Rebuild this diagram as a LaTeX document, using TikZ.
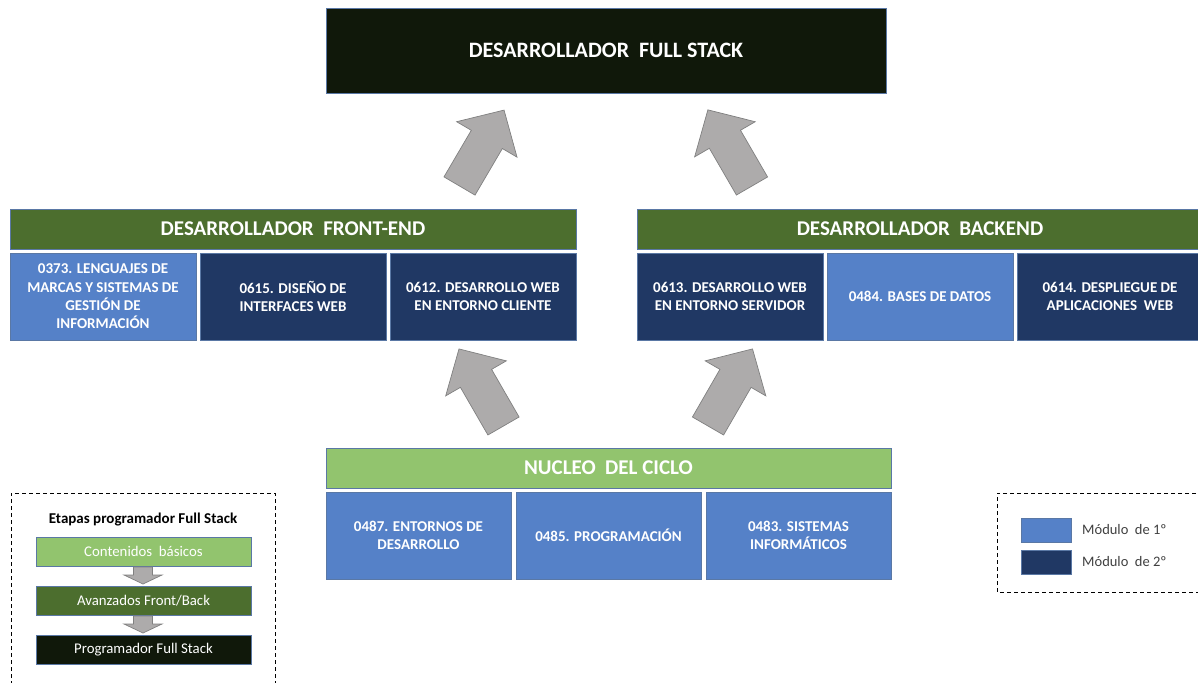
\documentclass[tikz,border=0pt]{standalone}
\usepackage{fontspec}
\setmainfont{Carlito}
\definecolor{lblue}{RGB}{85,129,200}
\definecolor{navy}{RGB}{32,56,100}
\definecolor{dgreen}{RGB}{76,110,46}
\definecolor{lgreen}{RGB}{146,196,110}
\definecolor{nearblack}{RGB}{16,24,10}
\definecolor{bordercol}{RGB}{90,120,165}
\definecolor{arrowfill}{RGB}{173,171,171}
\definecolor{arrowdraw}{RGB}{128,128,128}
\definecolor{legtext}{RGB}{64,64,64}
\newcommand\grayarrow[6]{%
  \begin{scope}[shift={#1}, rotate=#2]
    \draw[bigarrow] (0,-#4) -- ({#3-#6},-#4) -- ({#3-#6},-#5) -- (#3,0) -- ({#3-#6},#5) -- ({#3-#6},#4) -- (0,#4) -- cycle;
  \end{scope}}
\tikzset{
  box/.style={draw=bordercol, line width=0.7pt, inner sep=0pt, outer sep=0pt, align=center, text=white},
  header/.style={box, minimum width=566pt, minimum height=40pt, font=\fontsize{21}{25}\selectfont\bfseries},
  module/.style={box, minimum width=186pt, minimum height=87pt, font=\fontsize{15}{18.3}\selectfont\bfseries},
  bigarrow/.style={fill=arrowfill, draw=arrowdraw, line width=0.7pt, line join=miter},
  legbox/.style={box, minimum width=215pt, minimum height=29pt, font=\fontsize{14.8}{17}\selectfont},
  swatch/.style={draw=bordercol, line width=0.7pt, minimum width=50pt, minimum height=24pt, inner sep=0pt},
  legframe/.style={draw=black, line width=0.9pt, dash pattern=on 4pt off 3pt},
}
\begin{document}
\begin{tikzpicture}[x=1pt,y=-1pt]
\useasboundingbox (0,0) rectangle (1198,682);
\fill[white] (0,0) rectangle (1198,682);

% top
\node[box, fill=nearblack, minimum width=560pt, minimum height=85pt, font=\fontsize{22}{26}\selectfont\bfseries] (fs) at (606,50.5) {DESARROLLADOR\ \ FULL STACK};

% front-end
\node[header, fill=dgreen] (fe) at (293,229) {DESARROLLADOR\ \ FRONT-END};
\node[module, fill=lblue] (m0373) at (103,296.5) {0373. LENGUAJES DE\\MARCAS Y SISTEMAS DE\\GESTIÓN DE\\INFORMACIÓN};
\node[module, fill=navy] (m0615) at (293,296.5) {0615. DISEÑO DE\\INTERFACES WEB};
\node[module, fill=navy] (m0612) at (483,296.5) {0612. DESARROLLO WEB\\EN ENTORNO CLIENTE};

% backend
\node[header, fill=dgreen] (be) at (920,229) {DESARROLLADOR\ \ BACKEND};
\node[module, fill=navy] (m0613) at (730,296.5) {0613. DESARROLLO WEB\\EN ENTORNO SERVIDOR};
\node[module, fill=lblue] (m0484) at (920,296.5) {0484. BASES DE DATOS};
\node[module, fill=navy] (m0614) at (1110,296.5) {0614. DESPLIEGUE DE\\APLICACIONES\ \ WEB};

% nucleo
\node[header, fill=lgreen, minimum width=565pt] (nc) at (608.5,468) {NUCLEO\ \ DEL CICLO};
\node[module, fill=lblue, minimum width=185pt] (m0487) at (418.5,535.5) {0487. ENTORNOS DE\\DESARROLLO};
\node[module, fill=lblue, minimum width=185pt] (m0485) at (608.5,535.5) {0485. PROGRAMACIÓN};
\node[module, fill=lblue, minimum width=185pt] (m0483) at (798.5,535.5) {0483. SISTEMAS\\INFORMÁTICOS};

% big arrows
\coordinate (ta1) at (459.5,186);
\coordinate (ta2) at (752,186);
\coordinate (ta3) at (503.5,426);
\coordinate (ta4) at (708,426);
\grayarrow{(ta1)}{59.6}{88}{18}{35}{34}
\grayarrow{(ta2)}{120.1}{88}{18}{35}{34}
\grayarrow{(ta3)}{120}{89}{18}{35}{34}
\grayarrow{(ta4)}{60}{89}{18}{35}{34}

% left legend
\draw[legframe] (11,720) -- (11,493) -- (275,493) -- (275,720);
\node[font=\fontsize{15}{18}\selectfont\bfseries, text=black, inner sep=0pt] (legt) at (143,520) {Etapas programador Full Stack};
\node[legbox, fill=lgreen] (lg1) at (143.5,551.5) {Contenidos\ \ básicos};
\node[legbox, fill=dgreen] (lg2) at (143.5,600.5) {Avanzados Front/Back};
\node[legbox, fill=nearblack] (lg3) at (143.5,650) {Programador Full Stack};
\coordinate (tl1) at (143,567);
\coordinate (tl2) at (143,616);
\grayarrow{(tl1)}{-90}{17}{9.5}{19}{9}
\grayarrow{(tl2)}{-90}{17}{9.5}{19}{9}

% right legend
\draw[legframe] (1210,493) -- (997,493) -- (997,592) -- (1210,592);
\node[swatch, fill=lblue] (sw1) at (1046,530) {};
\node[swatch, fill=navy] (sw2) at (1046,562) {};
\node[anchor=west, inner sep=0pt, text=legtext, font=\fontsize{14.5}{17}\selectfont] (lt1) at (1082,530) {Módulo\ \ de\ 1º};
\node[anchor=west, inner sep=0pt, text=legtext, font=\fontsize{14.5}{17}\selectfont] (lt2) at (1082,562) {Módulo\ \ de\ 2º};
\end{tikzpicture}
\end{document}
